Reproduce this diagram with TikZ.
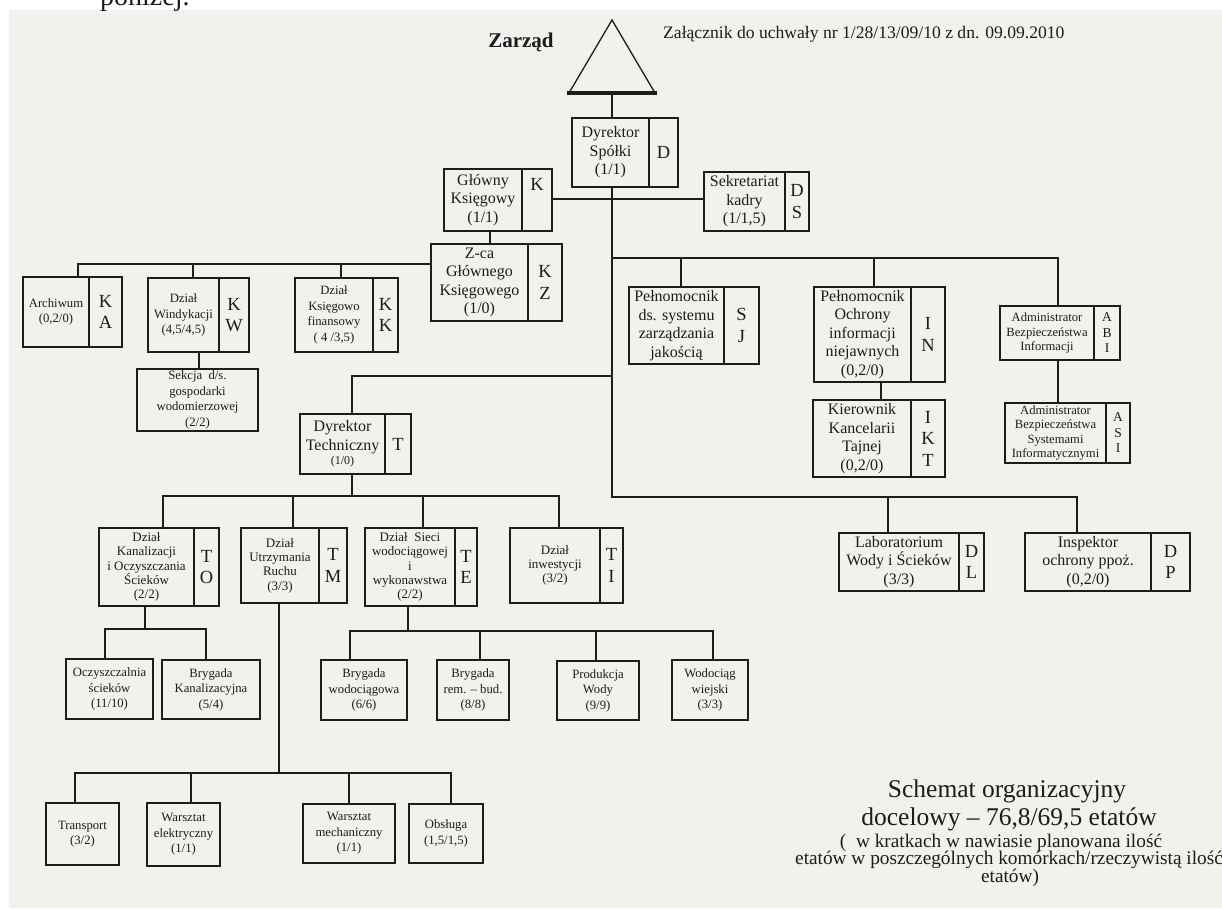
\documentclass[tikz,border=0pt]{standalone}
\usepackage{fontspec}
\setmainfont{Liberation Serif}
\definecolor{ink}{RGB}{28,28,28}
\definecolor{paper}{RGB}{243,241,238}
\tikzset{
  box/.style={draw=ink, line width=2.7pt, inner sep=0pt, outer sep=0pt},
  div/.style={draw=ink, line width=1.1pt},
  con/.style={draw=ink, line width=1.3pt},
  txtL/.style={align=center, text=ink, inner sep=0pt, font=\fontsize{16}{18.5}\selectfont},
  txtM/.style={align=center, text=ink, inner sep=0pt, font=\fontsize{12.7}{15.5}\selectfont},
  txtS/.style={align=center, text=ink, inner sep=0pt, font=\fontsize{12.6}{14.5}\selectfont},
  txtT/.style={align=center, text=ink, inner sep=0pt, font=\fontsize{13}{14.3}\selectfont},
  code/.style={align=center, text=ink, inner sep=0pt, font=\fontsize{18.5}{21.5}\selectfont},
  codeS/.style={align=center, text=ink, inner sep=0pt, font=\fontsize{13.5}{15.5}\selectfont},
  curcode/.style={code},
  plain/.style={text=ink, inner sep=0pt},
}
\newcommand{\dbox}[9]{%
  \node[box, minimum width={#4-#2}, minimum height={#5-#3}] (#1) at ({(#2+#4)/2},{(#3+#5)/2}) {};
  \draw[div] (#6,#3) -- (#6,#5);
  \node[#7] (#1t) at ({(#2+#6)/2},{(#3+#5)/2}) {#8};
  \node[curcode] (#1c) at ({(#6+#4)/2},{(#3+#5)/2}) {#9};
}
\newcommand{\pbx}[6]{%
  \node[box, txtM, minimum width={#4-#2}, minimum height={#5-#3}] (#1) at ({(#2+#4)/2},{(#3+#5)/2}) {#6};
}
\begin{document}
\begin{tikzpicture}[x=1pt,y=-1pt]
\useasboundingbox (0,0) rectangle (1222,908);
\fill[white] (0,0) rectangle (1222,908);
\fill[paper] (9,10) rectangle (1222,908);
\node[plain, anchor=base west, font=\fontsize{28}{30}\selectfont] (pon) at (100,5) {poniżej.};

% Zarzad
\coordinate (zb) at (612,93);
\draw[con] (569,93) -- (612,20) -- (655,93);
\draw[draw=ink, line width=3.4pt] (567,93) -- (657,93);
\node[plain, anchor=base, font=\bfseries\fontsize{21}{24}\selectfont] (zarzad) at (521,47) {Zarząd};
\node[plain, anchor=base west, font=\fontsize{17.6}{20}\selectfont] (zal) at (663,38) {Załącznik do uchwały nr 1/28/13/09/10 z dn. 09.09.2010};

% boxes
\dbox{dyr}{572}{118}{678}{187}{649}{txtL}{Dyrektor\\Spółki\\(1/1)}{D}
\dbox{gk}{444}{169}{552}{231}{522}{txtL}{Główny\\Księgowy\\(1/1)}{}
\node[code] (gkK) at (537,184) {K};
\dbox{sk}{704}{172}{809}{231}{785}{txtL}{Sekretariat\\kadry\\(1/1,5)}{D\\S}
\dbox{zkz}{431}{244}{562}{321}{528}{txtL}{Z-ca\\Głównego\\Księgowego\\(1/0)}{K\\Z}
\dbox{ka}{23}{277}{122}{347}{89}{txtM}{Archiwum\\(0,2/0)}{K\\A}
\dbox{kw}{148}{278}{249}{352}{219}{txtM}{Dział\\Windykacji\\(4,5/4,5)}{K\\W}
\dbox{kk}{295}{278}{398}{352}{373}{txtM}{Dział\\Księgowo\\finansowy\\( 4 /3,5)}{K\\K}
\pbx{sec}{137}{369}{258}{431}{Sekcja\enspace d/s.\\gospodarki\\wodomierzowej\\(2/2)}
\dbox{dt}{300}{414}{411}{474}{385}{txtL}{Dyrektor\\Techniczny\\[-4pt]{\fontsize{12}{14}\selectfont(1/0)}}{T}
\dbox{sj}{629}{287}{759}{364}{724}{txtL}{Pełnomocnik\\ds. systemu\\zarządzania\\jakością}{S\\J}
\dbox{in}{814}{287}{945}{382}{911}{txtL}{Pełnomocnik\\Ochrony\\informacji\\niejawnych\\(0,2/0)}{I\\N}
\dbox{ikt}{813}{400}{945}{477}{911}{txtL}{Kierownik\\Kancelarii\\Tajnej\\(0,2/0)}{I\\K\\T}
\begin{scope}[curcode/.style={codeS}]
\dbox{abi}{1000}{306}{1120}{360}{1094}{txtS}{Administrator\\Bezpieczeństwa\\Informacji}{A\\B\\I}
\dbox{asi}{1005}{403}{1130}{463}{1106}{txtS}{Administrator\\Bezpieczeństwa\\Systemami\\Informatycznymi}{A\\S\\I}
\end{scope}
\dbox{to}{99}{528}{219}{606}{194}{txtT}{Dział\\Kanalizacji\\i Oczyszczania\\Ścieków\\(2/2)}{T\\O}
\dbox{tm}{241}{528}{347}{603}{319}{txtT}{Dział\\Utrzymania\\Ruchu\\(3/3)}{T\\M}
\dbox{te}{365}{528}{477}{606}{455}{txtT}{Dział\enspace Sieci\\wodociągowej\\i\\wykonawstwa\\(2/2)}{T\\E}
\dbox{ti}{510}{528}{623}{603}{600}{txtT}{Dział\\inwestycji\\(3/2)}{T\\I}
\dbox{dl}{839}{533}{984}{591}{959}{txtL}{Laboratorium\\Wody i Ścieków\\(3/3)}{D\\L}
\dbox{dp}{1025}{533}{1190}{591}{1151}{txtL}{Inspektor\\ochrony ppoż.\\(0,2/0)}{D\\P}
\pbx{ocz}{66}{659}{153}{719}{Oczyszczalnia\\ścieków\\(11/10)}
\pbx{bk}{162}{660}{260}{719}{Brygada\\Kanalizacyjna\\(5/4)}
\pbx{bw}{321}{660}{407}{720}{Brygada\\wodociągowa\\(6/6)}
\pbx{br}{437}{660}{509}{720}{Brygada\\rem. – bud.\\(8/8)}
\pbx{pw}{557}{661}{639}{720}{Produkcja\\Wody\\(9/9)}
\pbx{ww}{672}{660}{748}{720}{Wodociąg\\wiejski\\(3/3)}
\pbx{tr}{46}{803}{119}{865}{Transport\\(3/2)}
\pbx{we}{147}{803}{220}{866}{Warsztat\\elektryczny\\(1/1)}
\pbx{wm}{303}{804}{395}{863}{Warsztat\\mechaniczny\\(1/1)}
\pbx{ob}{409}{804}{483}{863}{Obsługa\\(1,5/1,5)}

% connector coordinates
\coordinate (yK) at (0,199);
\coordinate (xGZ) at (490,0);
\coordinate (yL) at (0,264);
\coordinate (xKA) at (78,0);
\coordinate (xKW) at (193,0);
\coordinate (xKK) at (341,0);
\coordinate (xSec) at (199,0);
\coordinate (yDT) at (0,376);
\coordinate (xDT) at (352,0);
\coordinate (yT) at (0,496);
\coordinate (xTO) at (163,0);
\coordinate (xTM) at (293,0);
\coordinate (xTE) at (423,0);
\coordinate (xTI) at (559,0);
\coordinate (xTOc) at (145,0);
\coordinate (yTOc) at (0,629);
\coordinate (xOC) at (105,0);
\coordinate (xBK) at (206,0);
\coordinate (xTMc) at (279,0);
\coordinate (yTMc) at (0,773);
\coordinate (xTR) at (75,0);
\coordinate (xWE) at (191,0);
\coordinate (xWM) at (349,0);
\coordinate (xOB) at (451,0);
\coordinate (xTEc) at (408,0);
\coordinate (yTEc) at (0,631);
\coordinate (xBW) at (350,0);
\coordinate (xBR) at (480,0);
\coordinate (xPW) at (596,0);
\coordinate (xWW) at (713,0);
\coordinate (yR) at (0,258);
\coordinate (xSJ) at (681,0);
\coordinate (xIN) at (874,0);
\coordinate (xIK) at (881,0);
\coordinate (xAB) at (1058,0);
\coordinate (yB) at (0,497);
\coordinate (xDL) at (888,0);
\coordinate (xDP) at (1077,0);

% connectors
\draw[con] (zb) -- (zb |- dyr.north);
\draw[con] (zb |- dyr.south) -- (zb |- yB) -| (dp.north -| xDP);
\draw[con] (xDL |- yB) -- (dl.north -| xDL);
\draw[con] (gk.east |- yK) -- (sk.west |- yK);
\draw[con] (gk.south -| xGZ) -- (zkz.north -| xGZ);
\draw[con] (zkz.west |- yL) -| (ka.north -| xKA);
\draw[con] (xKW |- yL) -- (kw.north -| xKW);
\draw[con] (xKK |- yL) -- (kk.north -| xKK);
\draw[con] (kw.south -| xSec) -- (sec.north -| xSec);
\draw[con] (zb |- yDT) -| (dt.north -| xDT);
\draw[con] (dt.south -| xDT) -- (xDT |- yT);
\draw[con] (to.north -| xTO) |- (xTI |- yT) -- (ti.north -| xTI);
\draw[con] (xTM |- yT) -- (tm.north -| xTM);
\draw[con] (xTE |- yT) -- (te.north -| xTE);
\draw[con] (to.south -| xTOc) -- (xTOc |- yTOc);
\draw[con] (ocz.north -| xOC) |- (xBK |- yTOc) -- (bk.north -| xBK);
\draw[con] (tm.south -| xTMc) -- (xTMc |- yTMc);
\draw[con] (tr.north -| xTR) |- (xOB |- yTMc) -- (ob.north -| xOB);
\draw[con] (xWE |- yTMc) -- (we.north -| xWE);
\draw[con] (xWM |- yTMc) -- (wm.north -| xWM);
\draw[con] (te.south -| xTEc) -- (xTEc |- yTEc);
\draw[con] (bw.north -| xBW) |- (xWW |- yTEc) -- (ww.north -| xWW);
\draw[con] (xBR |- yTEc) -- (br.north -| xBR);
\draw[con] (xPW |- yTEc) -- (pw.north -| xPW);
\draw[con] (zb |- yR) -| (abi.north -| xAB);
\draw[con] (xSJ |- yR) -- (sj.north -| xSJ);
\draw[con] (xIN |- yR) -- (in.north -| xIN);
\draw[con] (in.south -| xIK) -- (ikt.north -| xIK);
\draw[con] (abi.south -| xAB) -- (asi.north -| xAB);

% legend
\node[plain, anchor=base, font=\fontsize{25.5}{28}\selectfont] (sch1) at (1007,797) {Schemat organizacyjny};
\node[plain, anchor=base, font=\fontsize{25.5}{28}\selectfont] (sch2) at (1009,825) {docelowy – 76,8/69,5 etatów};
\node[plain, anchor=base, font=\fontsize{19.3}{21}\selectfont] (sch3) at (1001,847) {(\enspace w kratkach w nawiasie planowana ilość};
\node[plain, anchor=base west, font=\fontsize{19.3}{21}\selectfont] (sch4) at (795,864) {etatów w poszczególnych komórkach/rzeczywistą ilość};
\node[plain, anchor=base, font=\fontsize{19.3}{21}\selectfont] (sch5) at (1010,882) {etatów)};
\end{tikzpicture}
\end{document}
